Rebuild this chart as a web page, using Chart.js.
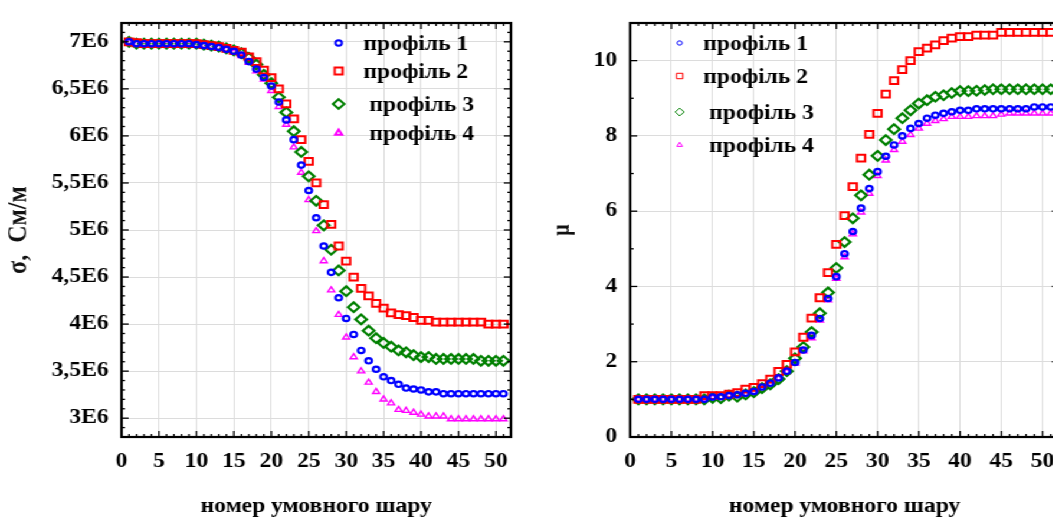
<!DOCTYPE html>
<html>
<head>
<meta charset="utf-8">
<script src="https://cdn.jsdelivr.net/npm/chart.js@4/dist/chart.umd.min.js"></script>
<style>
  html, body { margin: 0; padding: 0; background: #fff; overflow: hidden; width: 1053px; height: 517px; }
  /* the source figure is stretched sideways, so the whole page is too */
  #stage { position: absolute; left: 0; top: 0; width: 893px; height: 517px; transform: scaleX(1.18); transform-origin: 0 0; }
  .box { position: absolute; top: 0; height: 517px; }
</style>
</head>
<body>
<div id="stage">
  <div class="box" style="left:0;width:445px"><canvas id="sigmaChart" width="445" height="517"></canvas></div>
  <div class="box" style="left:447px;width:460px"><canvas id="muChart" width="460" height="517"></canvas></div>
</div>
<script>
// номер умовного шару
const layers = [1, 2, 3, 4, 5, 6, 7, 8, 9, 10, 11, 12, 13, 14, 15, 16, 17, 18, 19, 20,
  21, 22, 23, 24, 25, 26, 27, 28, 29, 30, 31, 32, 33, 34, 35, 36, 37, 38, 39, 40,
  41, 42, 43, 44, 45, 46, 47, 48, 49, 50, 51];

const profileLabels = ['профіль 1', 'профіль 2', ' профіль 3', ' профіль 4'];

// sigma, units of 1E6 См/м
const sigma1 = [7.00, 6.98, 6.98, 6.98, 6.98, 6.98, 6.98, 6.98, 6.98, 6.97, 6.96, 6.95, 6.94, 6.92, 6.90, 6.86, 6.79, 6.71, 6.62, 6.53,
  6.36, 6.17, 5.96, 5.69, 5.42, 5.13, 4.83, 4.55, 4.28, 4.06, 3.89, 3.72, 3.61, 3.52, 3.44, 3.40, 3.36, 3.32, 3.31, 3.30,
  3.28, 3.28, 3.26, 3.26, 3.26, 3.26, 3.26, 3.26, 3.26, 3.26, 3.26];
const sigma2 = [7.00, 6.99, 6.98, 6.98, 6.98, 6.98, 6.98, 6.98, 6.98, 6.98, 6.97, 6.96, 6.95, 6.93, 6.91, 6.89, 6.84, 6.79, 6.70, 6.62,
  6.50, 6.34, 6.18, 5.96, 5.73, 5.50, 5.27, 5.06, 4.83, 4.67, 4.50, 4.38, 4.30, 4.22, 4.17, 4.12, 4.10, 4.09, 4.07, 4.04,
  4.04, 4.02, 4.02, 4.02, 4.02, 4.02, 4.02, 4.02, 4.00, 4.00, 4.00];
const sigma3 = [7.00, 6.98, 6.98, 6.98, 6.98, 6.98, 6.98, 6.98, 6.98, 6.98, 6.97, 6.96, 6.95, 6.93, 6.91, 6.88, 6.83, 6.76, 6.65, 6.56,
  6.41, 6.25, 6.05, 5.83, 5.57, 5.31, 5.05, 4.79, 4.57, 4.35, 4.18, 4.05, 3.93, 3.85, 3.80, 3.76, 3.72, 3.70, 3.67, 3.65,
  3.65, 3.63, 3.63, 3.63, 3.63, 3.63, 3.63, 3.61, 3.61, 3.61, 3.61];
const sigma4 = [7.00, 6.98, 6.98, 6.98, 6.98, 6.98, 6.98, 6.98, 6.98, 6.97, 6.96, 6.95, 6.94, 6.92, 6.89, 6.85, 6.78, 6.69, 6.60, 6.48,
  6.31, 6.12, 5.88, 5.61, 5.32, 4.99, 4.67, 4.36, 4.10, 3.86, 3.65, 3.50, 3.38, 3.28, 3.20, 3.16, 3.09, 3.08, 3.06, 3.04,
  3.02, 3.02, 3.02, 2.99, 2.99, 2.99, 2.99, 2.99, 2.99, 2.99, 2.99];

// mu
const mu1 = [1.00, 1.00, 1.00, 1.00, 1.00, 1.00, 1.00, 1.00, 1.00, 1.06, 1.07, 1.10, 1.12, 1.16, 1.21, 1.33, 1.43, 1.57, 1.75, 1.98,
  2.31, 2.70, 3.15, 3.68, 4.26, 4.87, 5.46, 6.08, 6.60, 7.05, 7.46, 7.76, 8.00, 8.20, 8.33, 8.47, 8.55, 8.60, 8.64, 8.68,
  8.68, 8.72, 8.72, 8.72, 8.72, 8.72, 8.72, 8.72, 8.77, 8.77, 8.77];
const mu2 = [1.00, 1.00, 1.00, 1.00, 1.00, 1.00, 1.00, 1.00, 1.10, 1.10, 1.10, 1.14, 1.18, 1.27, 1.32, 1.42, 1.54, 1.74, 1.93, 2.26,
  2.65, 3.16, 3.70, 4.37, 5.12, 5.88, 6.65, 7.41, 8.04, 8.60, 9.11, 9.47, 9.76, 10.00, 10.24, 10.33, 10.42, 10.53, 10.60, 10.64,
  10.64, 10.68, 10.68, 10.68, 10.75, 10.75, 10.75, 10.75, 10.75, 10.75, 10.75];
const mu3 = [1.00, 1.00, 1.00, 1.00, 1.00, 1.00, 1.00, 1.00, 1.00, 1.04, 1.03, 1.10, 1.07, 1.13, 1.19, 1.30, 1.40, 1.54, 1.75, 2.09,
  2.39, 2.79, 3.29, 3.84, 4.49, 5.18, 5.81, 6.42, 6.97, 7.47, 7.89, 8.18, 8.47, 8.68, 8.86, 8.95, 9.04, 9.08, 9.14, 9.19,
  9.19, 9.20, 9.22, 9.24, 9.24, 9.24, 9.24, 9.24, 9.24, 9.24, 9.24];
const mu4 = [1.00, 1.00, 1.00, 1.00, 1.00, 1.00, 1.00, 1.00, 1.00, 1.05, 1.06, 1.10, 1.12, 1.15, 1.20, 1.30, 1.40, 1.56, 1.73, 1.96,
  2.28, 2.63, 3.10, 3.64, 4.21, 4.78, 5.39, 5.97, 6.47, 6.94, 7.35, 7.63, 7.85, 8.03, 8.20, 8.33, 8.40, 8.45, 8.51, 8.51,
  8.51, 8.53, 8.53, 8.53, 8.57, 8.60, 8.60, 8.60, 8.60, 8.60, 8.60];

const xTicks = [0, 5, 10, 15, 20, 25, 30, 35, 40, 45, 50];
const sigmaTicks = [3, 3.5, 4, 4.5, 5, 5.5, 6, 6.5, 7];
const muTicks = [0, 2, 4, 6, 8, 10];

const colors = ['#0000ff', '#ff0000', '#008000', '#ff00ff'];
const styles = ['circle', 'rect', 'rectRot', 'triangle'];
const radii = [2.7, 4.8, 4.8, 3.4];
const widths = [2.2, 2, 2.2, 1.4];
const FONT = '"Liberation Serif", "Times New Roman", serif';

// box with inward ticks on all four sides
const framePlugin = {
  id: 'frame',
  afterDraw(chart, args, o) {
    const { ctx, chartArea: a, scales: { x, y } } = chart;
    const line = (x1, y1, x2, y2) => { ctx.beginPath(); ctx.moveTo(x1, y1); ctx.lineTo(x2, y2); ctx.stroke(); };
    ctx.save();
    ctx.strokeStyle = '#000';
    ctx.lineWidth = 1.3;
    const nx = Math.round((x.max - x.min) / o.xMinor);
    for (let k = 0; k <= nx; k++) {
      const v = x.min + k * o.xMinor;
      const len = Math.abs(v / o.xMajor - Math.round(v / o.xMajor)) < 1e-6 ? 6 : 3;
      const px = x.getPixelForValue(v);
      line(px, a.bottom, px, a.bottom - len);
      line(px, a.top, px, a.top + len);
    }
    const ny = Math.round((y.max - y.min) / o.yMinor);
    for (let k = 0; k <= ny; k++) {
      const v = y.min + k * o.yMinor;
      const len = Math.abs(v / o.yMajor - Math.round(v / o.yMajor)) < 1e-6 ? 6 : 3;
      const py = y.getPixelForValue(v);
      line(a.left, py, a.left + len, py);
      line(a.right, py, a.right - len, py);
    }
    ctx.lineWidth = 2.2;
    ctx.strokeRect(a.left, a.top, a.right - a.left, a.bottom - a.top);
    ctx.restore();
  }
};

// legend drawn inside the plot
const insideLegend = {
  id: 'insideLegend',
  afterDatasetsDraw(chart, args, o) {
    const ctx = chart.ctx;
    ctx.save();
    chart.data.datasets.forEach((ds, i) => {
      const y = o.ys[i];
      ctx.strokeStyle = ds.borderColor;
      ctx.fillStyle = 'rgba(0,0,0,0)';
      ctx.lineWidth = o.lineWidth;
      Chart.helpers.drawPoint(ctx, { pointStyle: ds.pointStyle, radius: ds.pointRadius * o.scale, rotation: 0, borderWidth: o.lineWidth }, o.markerX, y);
      ctx.fillStyle = '#000';
      ctx.font = 'bold 20px ' + FONT;
      ctx.textBaseline = 'middle';
      ctx.textAlign = 'left';
      ctx.fillText(ds.label, o.textX, y + 2);
    });
    ctx.restore();
  }
};

function makeDatasets(series) {
  return series.map((vals, i) => ({
    label: profileLabels[i],
    data: layers.map((n, j) => ({ x: n, y: vals[j] })),
    pointStyle: styles[i],
    pointRadius: radii[i],
    pointBorderWidth: widths[i],
    borderColor: colors[i],
    pointBackgroundColor: 'rgba(0,0,0,0)',
    showLine: false
  }));
}

function makeOptions(cfg) {
  return {
    responsive: false,
    animation: false,
    layout: { padding: { top: cfg.top, right: cfg.right, bottom: 0, left: 0 } },
    plugins: {
      legend: { display: false },
      tooltip: { enabled: false },
      frame: cfg.frame,
      insideLegend: cfg.legend
    },
    scales: {
      x: {
        type: 'linear', min: 0, max: 52,
        afterBuildTicks: s => { s.ticks = xTicks.map(v => ({ value: v })); },
        afterFit: s => { s.height = 80; },
        grid: { color: '#dcdcdc', lineWidth: 1, drawTicks: false },
        border: { display: false },
        ticks: { padding: 13, color: '#000', font: { family: FONT, size: 20, weight: 'bold' } },
        title: { display: true, text: 'номер умовного шару', color: '#000', padding: { top: 0, bottom: -2 },
          font: { family: FONT, size: 20, weight: 'bold' } }
      },
      y: {
        type: 'linear', min: cfg.yMin, max: cfg.yMax,
        afterBuildTicks: s => { s.ticks = cfg.yTicks.map(v => ({ value: v })); },
        afterFit: s => { s.width = cfg.yWidth; },
        grid: { color: '#dcdcdc', lineWidth: 1, drawTicks: false },
        border: { display: false },
        ticks: { padding: 11, color: '#000', callback: cfg.tickFormat, font: { family: FONT, size: 20, weight: 'bold' } },
        title: { display: true, text: cfg.yTitle, color: '#111', padding: { top: cfg.titlePad, bottom: 0 },
          font: { family: FONT, size: cfg.yTitleSize, weight: 'bold' } }
      }
    }
  };
}

new Chart(document.getElementById('sigmaChart'), {
  type: 'scatter',
  data: { datasets: makeDatasets([sigma1, sigma2, sigma3, sigma4]) },
  options: makeOptions({
    top: 14, right: 12, yMin: 2.8, yMax: 7.2, yTicks: sigmaTicks, yWidth: 103,
    tickFormat: v => String(v).replace('.', ',') + 'E6',
    yTitle: 'σ,  См/м', yTitleSize: 24, titlePad: 1,
    frame: { xMinor: 1, xMajor: 5, yMinor: 0.1, yMajor: 0.5 },
    legend: { markerX: 287, textX: 308, ys: [43, 71, 104, 133], scale: 1, lineWidth: 2 }
  }),
  plugins: [framePlugin, insideLegend]
});

new Chart(document.getElementById('muChart'), {
  type: 'scatter',
  data: { datasets: makeDatasets([mu1, mu2, mu3, mu4]) },
  options: makeOptions({
    top: 18, right: 9.5, yMin: 0, yMax: 11, yTicks: muTicks, yWidth: 87,
    tickFormat: v => String(v),
    yTitle: 'μ', yTitleSize: 20, titlePad: 18,
    frame: { xMinor: 1, xMajor: 5, yMinor: 1, yMajor: 2 },
    legend: { markerX: 129, textX: 149, ys: [43, 76, 112, 145], scale: 0.8, lineWidth: 1 }
  }),
  plugins: [framePlugin, insideLegend]
});
</script>
</body>
</html>
